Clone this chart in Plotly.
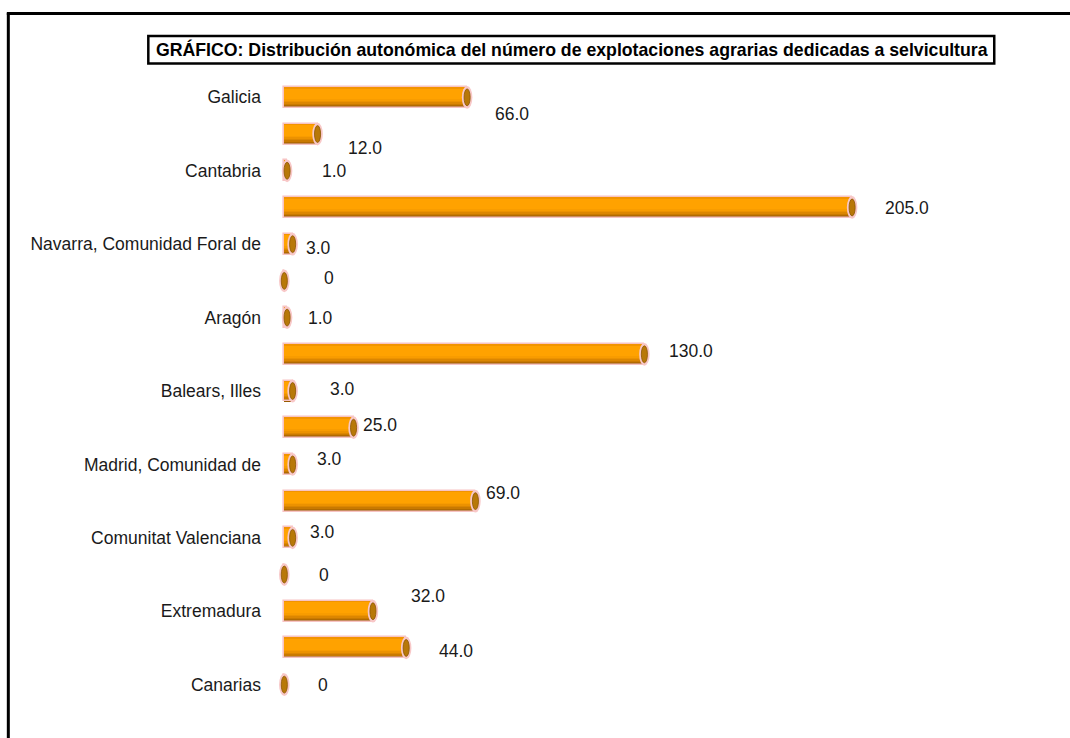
import plotly.graph_objects as go

# ---------------- data ----------------
categories = [
    "Galicia", "Asturias, Principado de", "Cantabria", "País Vasco",
    "Navarra, Comunidad Foral de", "Rioja, La", "Aragón", "Cataluña",
    "Balears, Illes", "Castilla y León", "Madrid, Comunidad de",
    "Castilla - La Mancha", "Comunitat Valenciana", "Murcia, Región de",
    "Extremadura", "Andalucía", "Canarias",
]
values = [66, 12, 1, 205, 3, 0, 1, 130, 3, 25, 3, 69, 3, 0, 32, 44, 0]
shown_ticks = categories[::2]
title_text = "GRÁFICO: Distribución autonómica del número de explotaciones agrarias dedicadas a selvicultura"

# label offsets (pixels) relative to bar end, as placed in the original
label_dx = [26, 28, 33, 31, 11, 38, 19, 23, 35, 7, 22, 9, 15, 33, 36, 31, 32]
label_dy = [17, 14, 0, 1, 4, -3, 0, -3, -2, -3, -5, -8, -6, 0, -15, 3, 0]

# ---------------- geometry ----------------
FW, FH = 1070, 738
L, T = 276.2, 78.6
XR = [-3, 275]
PX_PER_UNIT = 2.77
W = (XR[1] - XR[0]) * PX_PER_UNIT
H = 17 * 36.75
R = FW - L - W
B = FH - T - H

def px(xp):
    return (xp - L) / W

def py(yp):
    return 1 - (yp - T) / H

FONT = "Arial, Liberation Sans, sans-serif"
BW = 0.57  # bar thickness in category units

fig = go.Figure()
# base orange body
fig.add_trace(go.Bar(y=categories, x=values, orientation="h", width=BW,
                     marker=dict(color="#FFA200", line=dict(width=0)),
                     hoverinfo="skip", showlegend=False))
# thin darker band at the top edge
fig.add_trace(go.Bar(y=categories, x=values, orientation="h", width=BW * 0.08,
                     offset=-BW / 2, marker=dict(color="#F29400", line=dict(width=0)),
                     hoverinfo="skip", showlegend=False))
# bottom shading (cylinder gradient)
shade = [(0.42, "#F89C00"), (0.34, "#EC9200"), (0.27, "#DC8600"),
         (0.20, "#C97A00"), (0.13, "#B26A00"), (0.07, "#985A00")]
for frac, col in shade:
    fig.add_trace(go.Bar(y=categories, x=values, orientation="h", width=BW * frac,
                         offset=BW / 2 - BW * frac, marker=dict(color=col, line=dict(width=0)),
                         hoverinfo="skip", showlegend=False))
# pink outline
fig.add_trace(go.Bar(y=categories, x=values, orientation="h", width=BW,
                     marker=dict(color="rgba(0,0,0,0)", line=dict(width=1.6, color="#F7C4C4")),
                     hoverinfo="skip", showlegend=False))

shapes = []
annotations = []
for i, (c, v) in enumerate(zip(categories, values)):
    # cylinder end cap
    shapes.append(dict(type="circle", xref="x", yref="y", layer="above",
                       x0=v - 1.9, x1=v + 1.9, y0=i - 0.31, y1=i + 0.31,
                       fillcolor="#F8C8C8", line=dict(width=0)))
    shapes.append(dict(type="circle", xref="x", yref="y", layer="above",
                       x0=v - 1.1, x1=v + 1.1, y0=i - 0.23, y1=i + 0.23,
                       fillcolor="#B87808", line=dict(width=0.8, color="#8A5500")))
    txt = "0" if v == 0 else f"{v:.1f}"
    annotations.append(dict(x=v, y=c, xref="x", yref="y", text=txt, showarrow=False,
                            xanchor="left", yanchor="middle",
                            xshift=label_dx[i], yshift=-label_dy[i],
                            font=dict(family=FONT, size=17.5, color="#1a1a1a")))

# outer frame (left + top edges visible, rest cropped)
shapes.append(dict(type="line", xref="paper", yref="paper", layer="above",
                   x0=px(8.5), x1=px(8.5), y0=py(12.5), y1=py(760),
                   line=dict(color="black", width=3)))
shapes.append(dict(type="line", xref="paper", yref="paper", layer="above",
                   x0=px(7), x1=px(1090), y0=py(13), y1=py(13),
                   line=dict(color="black", width=3)))
# title box
shapes.append(dict(type="rect", xref="paper", yref="paper", layer="above",
                   x0=px(148.5), x1=px(994.5), y0=py(35.5), y1=py(63),
                   line=dict(color="black", width=2.5), fillcolor="white"))
annotations.append(dict(x=px(572), y=py(49.5), xref="paper", yref="paper",
                        text="<b>" + title_text + "</b>", showarrow=False,
                        xanchor="center", yanchor="middle",
                        font=dict(family=FONT, size=17.7, color="black")))

fig.update_layout(
    width=FW, height=FH,
    margin=dict(l=L, r=R, t=T, b=B, pad=0),
    paper_bgcolor="white", plot_bgcolor="white",
    barmode="overlay", bargap=0,
    shapes=shapes, annotations=annotations,
    showlegend=False,
)
fig.update_xaxes(range=XR, visible=False, showgrid=False, zeroline=False)
fig.update_yaxes(type="category", categoryorder="array", categoryarray=categories,
                 range=[16.5, -0.5], tickmode="array", tickvals=shown_ticks,
                 ticktext=shown_ticks, showgrid=False, zeroline=False, showline=False,
                 ticks="", ticklabelstandoff=14,
                 tickfont=dict(family=FONT, size=17.5, color="#1a1a1a"))

fig.write_html("out.html", config={"displayModeBar": False},
               post_script="document.body.style.margin='0';document.body.style.overflow='hidden';")
